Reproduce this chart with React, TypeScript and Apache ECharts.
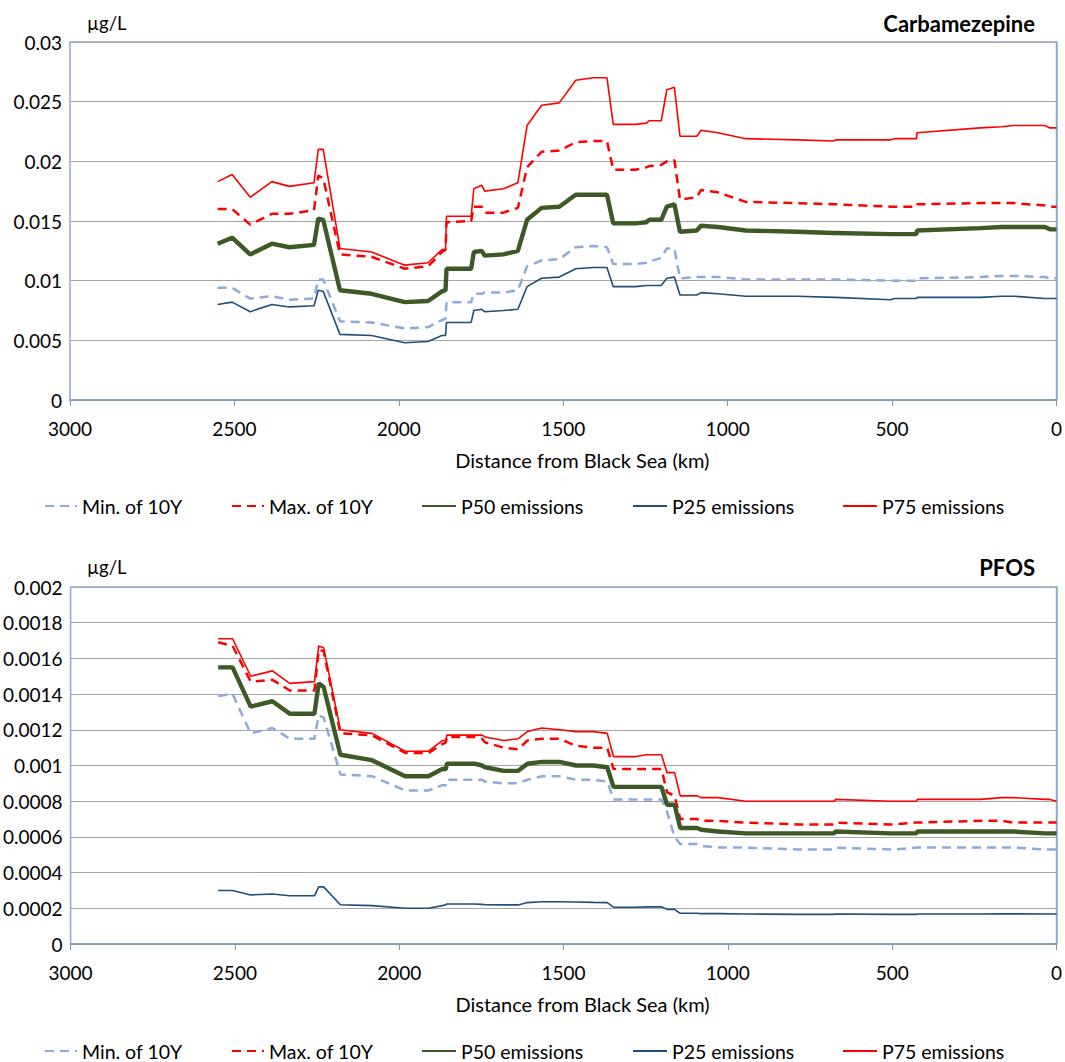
import React, { useEffect, useRef } from "react";
import * as echarts from "echarts";

// Station distances from the Black Sea (km), shared by both panels
const km = [2551, 2507, 2452, 2386, 2333, 2258, 2245, 2230, 2179, 2083, 1982, 1911, 1869, 1858, 1855, 1780, 1772, 1748, 1739, 1682, 1638, 1610, 1566, 1512, 1462, 1409, 1367, 1348, 1280, 1247, 1239, 1202, 1185, 1162, 1145, 1094, 1081, 1030, 945, 788, 677, 672, 505, 492, 426, 424, 232, 167, 131, 35, 20, 0];

// Carbamezepine (µg/L)
const carbaMin = [0.0094, 0.0094, 0.0085, 0.0087, 0.0084, 0.0085, 0.0101, 0.0101, 0.0066, 0.0065, 0.0060, 0.0061, 0.0067, 0.0068, 0.0082, 0.0082, 0.0089, 0.0089, 0.0090, 0.0090, 0.0092, 0.0112, 0.0117, 0.0118, 0.0128, 0.0129, 0.0128, 0.0114, 0.0114, 0.0115, 0.0116, 0.0119, 0.0127, 0.0127, 0.0102, 0.0103, 0.0103, 0.0103, 0.0101, 0.0101, 0.0101, 0.0101, 0.0100, 0.0100, 0.0100, 0.0102, 0.0103, 0.0104, 0.0104, 0.0103, 0.0102, 0.0102];
const carbaMax = [0.0160, 0.0160, 0.0147, 0.0156, 0.0156, 0.0159, 0.0188, 0.0186, 0.0122, 0.0120, 0.0110, 0.0112, 0.0124, 0.0126, 0.0149, 0.0150, 0.0162, 0.0162, 0.0157, 0.0157, 0.0161, 0.0195, 0.0208, 0.0209, 0.0216, 0.0217, 0.0217, 0.0193, 0.0193, 0.0195, 0.0196, 0.0197, 0.0200, 0.0201, 0.0168, 0.0170, 0.0176, 0.0174, 0.0166, 0.0165, 0.0164, 0.0164, 0.0162, 0.0162, 0.0162, 0.0164, 0.0165, 0.0165, 0.0165, 0.0163, 0.0162, 0.0162];
const carbaP50 = [0.0131, 0.0136, 0.0122, 0.0131, 0.0128, 0.0130, 0.0152, 0.0151, 0.0092, 0.0089, 0.0082, 0.0083, 0.0091, 0.0092, 0.0110, 0.0110, 0.0124, 0.0125, 0.0121, 0.0122, 0.0125, 0.0151, 0.0161, 0.0162, 0.0172, 0.0172, 0.0172, 0.0148, 0.0148, 0.0149, 0.0151, 0.0151, 0.0162, 0.0164, 0.0141, 0.0142, 0.0146, 0.0145, 0.0142, 0.0141, 0.0140, 0.0140, 0.0139, 0.0139, 0.0139, 0.0142, 0.0144, 0.0145, 0.0145, 0.0145, 0.0143, 0.0143];
const carbaP25 = [0.0080, 0.0082, 0.0074, 0.0080, 0.0078, 0.0079, 0.0092, 0.0091, 0.0055, 0.0054, 0.0048, 0.0049, 0.0054, 0.0054, 0.0065, 0.0065, 0.0075, 0.0076, 0.0074, 0.0075, 0.0076, 0.0095, 0.0102, 0.0103, 0.0110, 0.0111, 0.0111, 0.0095, 0.0095, 0.0096, 0.0096, 0.0096, 0.0102, 0.0103, 0.0088, 0.0088, 0.0090, 0.0089, 0.0087, 0.0087, 0.0086, 0.0086, 0.0084, 0.0085, 0.0085, 0.0086, 0.0086, 0.0087, 0.0087, 0.0085, 0.0085, 0.0085];
const carbaP75 = [0.0183, 0.0189, 0.0170, 0.0183, 0.0179, 0.0182, 0.0210, 0.0210, 0.0127, 0.0124, 0.0113, 0.0115, 0.0126, 0.0126, 0.0154, 0.0154, 0.0177, 0.0180, 0.0175, 0.0177, 0.0182, 0.0230, 0.0247, 0.0249, 0.0268, 0.0270, 0.0270, 0.0231, 0.0231, 0.0232, 0.0234, 0.0234, 0.0260, 0.0262, 0.0221, 0.0221, 0.0226, 0.0224, 0.0219, 0.0218, 0.0217, 0.0218, 0.0218, 0.0219, 0.0219, 0.0224, 0.0228, 0.0229, 0.0230, 0.0230, 0.0228, 0.0228];

// PFOS (µg/L)
const pfosMin = [0.00139, 0.00140, 0.00118, 0.00121, 0.00115, 0.00115, 0.00128, 0.00127, 0.00095, 0.00094, 0.00086, 0.00086, 0.00089, 0.00089, 0.00092, 0.00092, 0.00092, 0.00092, 0.00091, 0.00090, 0.00090, 0.00092, 0.00094, 0.00094, 0.00092, 0.00092, 0.00091, 0.00081, 0.00081, 0.00081, 0.00081, 0.00081, 0.00074, 0.00060, 0.00056, 0.00056, 0.00055, 0.00054, 0.00054, 0.00053, 0.00053, 0.00054, 0.00053, 0.00053, 0.00054, 0.00054, 0.00054, 0.00054, 0.00054, 0.00053, 0.00053, 0.00053];
const pfosMax = [0.00169, 0.00167, 0.00147, 0.00148, 0.00142, 0.00142, 0.00165, 0.00164, 0.00118, 0.00117, 0.00107, 0.00107, 0.00112, 0.00113, 0.00116, 0.00116, 0.00116, 0.00115, 0.00113, 0.00110, 0.00109, 0.00114, 0.00115, 0.00115, 0.00111, 0.00110, 0.00110, 0.00098, 0.00098, 0.00098, 0.00098, 0.00098, 0.00085, 0.00083, 0.00070, 0.00070, 0.00069, 0.00069, 0.00068, 0.00067, 0.00067, 0.00068, 0.00067, 0.00067, 0.00068, 0.00068, 0.00069, 0.00069, 0.00068, 0.00068, 0.00068, 0.00068];
const pfosP50 = [0.00155, 0.00155, 0.00133, 0.00136, 0.00129, 0.00129, 0.00146, 0.00144, 0.00106, 0.00103, 0.00094, 0.00094, 0.00098, 0.00098, 0.00101, 0.00101, 0.00101, 0.00100, 0.00099, 0.00097, 0.00097, 0.00101, 0.00102, 0.00102, 0.00100, 0.00100, 0.00099, 0.00088, 0.00088, 0.00088, 0.00088, 0.00088, 0.00078, 0.00078, 0.00065, 0.00065, 0.00064, 0.00063, 0.00062, 0.00062, 0.00062, 0.00063, 0.00062, 0.00062, 0.00062, 0.00063, 0.00063, 0.00063, 0.00063, 0.00062, 0.00062, 0.00062];
const pfosP25 = [0.00030, 0.00030, 0.000275, 0.00028, 0.00027, 0.00027, 0.00032, 0.00032, 0.00022, 0.000215, 0.00020, 0.00020, 0.000215, 0.00022, 0.000224, 0.000224, 0.000224, 0.000222, 0.00022, 0.000219, 0.000219, 0.000232, 0.000237, 0.000237, 0.000235, 0.000233, 0.000232, 0.000206, 0.000206, 0.000208, 0.000208, 0.000209, 0.000194, 0.000194, 0.000172, 0.000172, 0.00017, 0.00017, 0.000168, 0.000166, 0.000166, 0.000168, 0.000166, 0.000166, 0.000166, 0.000168, 0.000168, 0.000169, 0.000169, 0.000168, 0.000168, 0.000168];
const pfosP75 = [0.00171, 0.00171, 0.00150, 0.00153, 0.00146, 0.00147, 0.00167, 0.00166, 0.00120, 0.00118, 0.00108, 0.00108, 0.00114, 0.00114, 0.00117, 0.00117, 0.00117, 0.00117, 0.00116, 0.00114, 0.00115, 0.00119, 0.00121, 0.00120, 0.00119, 0.00119, 0.00118, 0.00105, 0.00105, 0.00106, 0.00106, 0.00106, 0.00096, 0.00096, 0.00083, 0.00083, 0.00082, 0.00082, 0.00080, 0.00080, 0.00080, 0.00081, 0.00080, 0.00080, 0.00080, 0.00081, 0.00081, 0.00082, 0.00082, 0.00081, 0.00081, 0.00080];

const seriesNames = ["Min. of 10Y", "Max. of 10Y", "P50 emissions", "P25 emissions", "P75 emissions"];
const chartTitles = ["Carbamezepine", "PFOS"];
const unitLabel = "µg/L";
const xAxisTitle = "Distance from Black Sea (km)";
const xTicks = { min: 0, max: 3000, interval: 500 };
const yTopMax = 0.03;
const yTopInterval = 0.005;
const yBotMax = 0.002;
const yBotInterval = 0.0002;

const FONT = "Lato";

const styles = [
  { color: "#8EA9DB", width: 2.5, type: [9, 6] },
  { color: "#FF0000", width: 2.5, type: [9, 6] },
  { color: "#3D5A26", width: 4.4, type: "solid" },
  { color: "#1F4E79", width: 1.6, type: "solid" },
  { color: "#FF0000", width: 1.6, type: "solid" },
];

function pairs(vals: number[]) {
  return km.map((k, i) => [k, vals[i]]);
}

export default function App() {
  const ref = useRef<HTMLDivElement>(null);
  useEffect(() => {
    if (!ref.current) return;
    const chart = echarts.init(ref.current, null, { renderer: "svg" });
    const grids = [
      { left: 70, top: 42, width: 990, height: 358 },
      { left: 70, top: 587, width: 990, height: 357 },
    ];
    const topData = [carbaMin, carbaMax, carbaP50, carbaP25, carbaP75];
    const botData = [pfosMin, pfosMax, pfosP50, pfosP25, pfosP75];
    const series: any[] = [];
    [topData, botData].forEach((set, gi) => {
      set.forEach((vals, si) => {
        series.push({
          type: "line",
          name: seriesNames[si],
          xAxisIndex: gi,
          yAxisIndex: gi,
          data: pairs(vals),
          symbol: "none",
          showSymbol: false,
          lineStyle: { color: styles[si].color, width: styles[si].width, type: styles[si].type },
          itemStyle: { color: styles[si].color },
          z: 2 + si,
        });
      });
    });

    const legendLefts = [44, 231, 421, 632, 842];
    const legendWidths = [32, 32, 34, 34, 34];
    const legendTops = [496, 1041];
    const legends: any[] = [];
    legendTops.forEach((t) => {
      seriesNames.forEach((n, i) => {
        legends.push({
          data: [n],
          left: legendLefts[i],
          top: t,
          itemWidth: legendWidths[i],
          itemHeight: 14,
          selectedMode: false,
          padding: 0,
          itemStyle: { color: "rgba(0,0,0,0)", borderColor: "rgba(0,0,0,0)", borderWidth: 0, opacity: 0 },
          textStyle: { fontFamily: FONT, fontSize: 19.5, color: "#000" },
        });
      });
    });

    const mkX = (gi: number) => ({
      type: "value",
      gridIndex: gi,
      inverse: true,
      min: xTicks.min,
      max: xTicks.max,
      interval: xTicks.interval,
      name: xAxisTitle,
      nameLocation: "middle",
      nameGap: 50,
      nameTextStyle: { fontFamily: FONT, fontSize: 20, color: "#000", padding: [0, 0, 0, 38] },
      axisLine: { show: true, lineStyle: { color: "#8497B0", width: 1.5 } },
      axisTick: { show: true, length: 6, lineStyle: { color: "#8497B0" } },
      axisLabel: { fontFamily: FONT, fontSize: 19, color: "#000", margin: 19, formatter: (v: number) => String(v) },
      splitLine: { show: false },
    });
    const mkY = (gi: number, max: number, interval: number) => ({
      type: "value",
      gridIndex: gi,
      min: 0,
      max,
      interval,
      axisLine: { show: true, lineStyle: { color: "#8EA9DB", width: 1.5 } },
      axisTick: { show: false },
      axisLabel: { fontFamily: FONT, fontSize: 19, color: "#000", margin: 8 },
      splitLine: { show: true, lineStyle: { color: "#A6A6A6", width: 1 } },
    });

    chart.setOption({
      animation: false,
      backgroundColor: "#fff",
      title: [
        { text: chartTitles[0], right: 30, top: 12, padding: 0, textStyle: { fontFamily: FONT, fontSize: 22, fontWeight: "bold", color: "#000" } },
        { text: chartTitles[1], right: 30, top: 556, padding: 0, textStyle: { fontFamily: FONT, fontSize: 22, fontWeight: "bold", color: "#000" } },
      ],
      graphic: [
        { type: "text", left: 87, top: 13, style: { text: unitLabel, fontFamily: FONT, fontSize: 18.5, fill: "#000" } },
        { type: "text", left: 87, top: 557, style: { text: unitLabel, fontFamily: FONT, fontSize: 18.5, fill: "#000" } },
      ],
      grid: grids.map((g) => ({ ...g, show: true, borderColor: "#8EA9DB", borderWidth: 1.5, containLabel: false })),
      xAxis: [mkX(0), mkX(1)],
      yAxis: [mkY(0, yTopMax, yTopInterval), mkY(1, yBotMax, yBotInterval)],
      legend: legends,
      series,
    });
    return () => chart.dispose();
  }, []);
  return (
    <div
      ref={ref}
      style={{ position: "absolute", left: 0, top: 0, width: 1065, height: 1062, background: "#fff" }}
    />
  );
}
